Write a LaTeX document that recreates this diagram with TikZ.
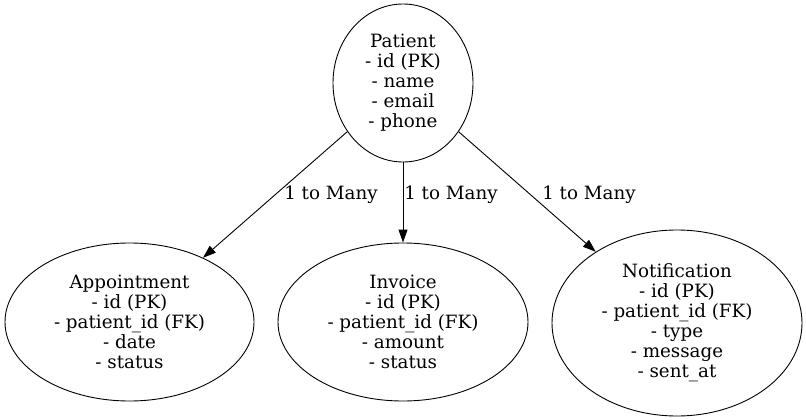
\documentclass[tikz,border=0pt]{standalone}
\usepackage{fontspec}
\setmainfont{DejaVu Serif}
\usetikzlibrary{shapes.geometric,arrows.meta}
\begin{document}
\begin{tikzpicture}[x=1pt,y=-1pt,
  ent/.style={draw, ellipse, inner sep=0pt, align=center, line width=0.9pt,
    font=\fontsize{18.3}{20}\selectfont},
  rel/.style={draw, line width=0.9pt, -{Triangle[length=13pt,width=9pt]}},
  lab/.style={font=\fontsize{18.3}{20}\selectfont, inner sep=0pt}]
\useasboundingbox (0,0) rectangle (806,420);
\node[ent, minimum width=140pt, minimum height=158pt] (patient) at (403,83)
  {Patient\\- id (PK)\\- name\\- email\\- phone};
\node[ent, minimum width=249pt, minimum height=158pt] (appt) at (129.5,322)
  {Appointment\\- id (PK)\\- patient\_id (FK)\\- date\\- status};
\node[ent, minimum width=250pt, minimum height=158pt] (inv) at (403,322)
  {Invoice\\- id (PK)\\- patient\_id (FK)\\- amount\\- status};
\node[ent, minimum width=250pt, minimum height=186pt] (notif) at (677,323)
  {Notification\\- id (PK)\\- patient\_id (FK)\\- type\\- message\\- sent\_at};
\draw[rel] (patient) -- (appt);
\draw[rel] (patient) -- (inv);
\draw[rel] (patient) -- (notif);
\node[lab] (l1) at (331,195) {1 to Many};
\node[lab] (l2) at (451,195) {1 to Many};
\node[lab] (l3) at (589,195) {1 to Many};
\end{tikzpicture}
\end{document}
